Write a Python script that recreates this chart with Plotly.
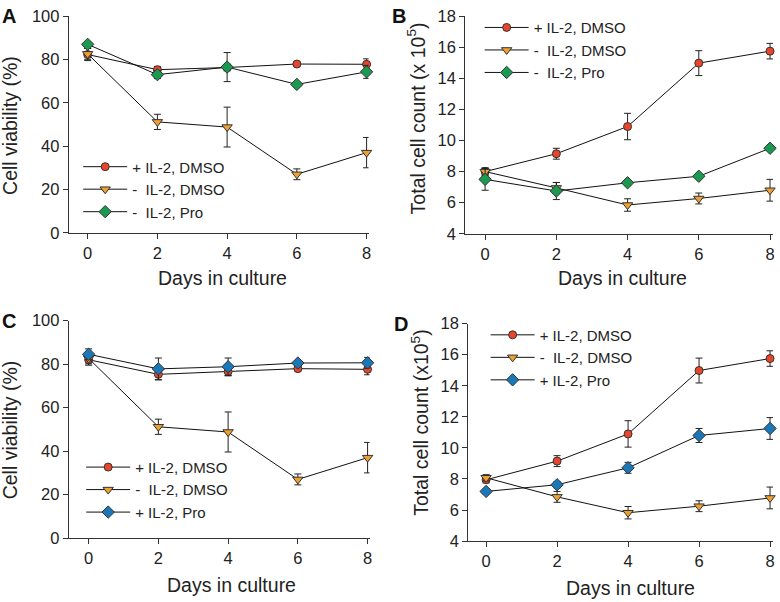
import plotly.graph_objects as go

days = [0, 2, 4, 6, 8]
x_ticks = [0, 2, 4, 6, 8]

# Panel A - cell viability (%)
a_il2_dmso = [82.3, 75.3, 76.3, 77.9, 77.8]
a_il2_dmso_err = [2.8, 1.5, 1.5, 1.0, 2.5]
a_noil2_dmso = [82.6, 51.2, 48.8, 27.0, 37.0]
a_noil2_dmso_err = [2.5, 3.5, 9.2, 2.5, 7.0]
a_noil2_pro = [87.0, 73.0, 76.5, 68.5, 74.3]
a_noil2_pro_err = [1.0, 1.8, 6.7, 1.0, 3.0]

# Panel B - total cell count (x 10^5)
b_il2_dmso = [8.0, 9.15, 10.9, 14.98, 15.75]
b_il2_dmso_err = [0.2, 0.35, 0.85, 0.8, 0.5]
b_noil2_dmso = [8.0, 6.95, 5.85, 6.27, 6.8]
b_noil2_dmso_err = [0.25, 0.35, 0.4, 0.35, 0.7]
b_noil2_pro = [7.5, 6.75, 7.28, 7.7, 9.5]
b_noil2_pro_err = [0.7, 0.55, 0.15, 0.15, 0.1]

# Panel C - cell viability (%)
c_il2_dmso = [82.0, 75.3, 76.6, 77.9, 77.6]
c_il2_dmso_err = [2.5, 2.5, 2.0, 1.0, 2.5]
c_noil2_dmso = [82.6, 51.2, 48.8, 27.0, 37.0]
c_noil2_dmso_err = [2.5, 3.5, 9.2, 2.5, 7.0]
c_il2_pro = [84.5, 77.8, 78.8, 80.5, 80.6]
c_il2_pro_err = [2.5, 5.0, 4.0, 1.0, 2.5]

# Panel D - total cell count (x10^5)
d_il2_dmso = [7.95, 9.15, 10.9, 14.98, 15.75]
d_il2_dmso_err = [0.2, 0.35, 0.85, 0.8, 0.5]
d_noil2_dmso = [8.08, 6.85, 5.83, 6.25, 6.78]
d_noil2_dmso_err = [0.2, 0.35, 0.4, 0.35, 0.7]
d_il2_pro = [7.2, 7.63, 8.72, 10.8, 11.25]
d_il2_pro_err = [0.15, 0.2, 0.35, 0.45, 0.7]

RED = "#E8452A"
ORANGE = "#F0A030"
GREEN = "#1A9A50"
BLUE = "#1A78B8"
FONT = "Liberation Sans, Arial, sans-serif"
INK = "#222222"

fig = go.Figure()


def add(x, y, err, name, color, symbol, size, xa, ya, legend):
    fig.add_trace(go.Scatter(
        x=x, y=y, name=name, mode="lines+markers",
        xaxis=xa, yaxis=ya, legend=legend,
        line=dict(color="#111111", width=1),
        marker=dict(color=color, symbol=symbol, size=size,
                    line=dict(color="#333333", width=1)),
        error_y=dict(type="data", array=err, visible=True,
                     color="#222222", thickness=1, width=3.5),
        cliponaxis=False,
    ))


add(days, a_il2_dmso, a_il2_dmso_err, "+ IL-2, DMSO", RED, "circle", 8, "x", "y", "legend")
add(days, a_noil2_dmso, a_noil2_dmso_err, "-  IL-2, DMSO", ORANGE, "triangle-down", 9, "x", "y", "legend")
add(days, a_noil2_pro, a_noil2_pro_err, "-  IL-2, Pro", GREEN, "diamond", 9.5, "x", "y", "legend")

add(days, b_il2_dmso, b_il2_dmso_err, "+ IL-2, DMSO", RED, "circle", 8, "x2", "y2", "legend2")
add(days, b_noil2_dmso, b_noil2_dmso_err, "-  IL-2, DMSO", ORANGE, "triangle-down", 9, "x2", "y2", "legend2")
add(days, b_noil2_pro, b_noil2_pro_err, "-  IL-2, Pro", GREEN, "diamond", 9.5, "x2", "y2", "legend2")

add(days, c_il2_dmso, c_il2_dmso_err, "+ IL-2, DMSO", RED, "circle", 8, "x3", "y3", "legend3")
add(days, c_noil2_dmso, c_noil2_dmso_err, "-  IL-2, DMSO", ORANGE, "triangle-down", 9, "x3", "y3", "legend3")
add(days, c_il2_pro, c_il2_pro_err, "+ IL-2, Pro", BLUE, "diamond", 9.5, "x3", "y3", "legend3")

add(days, d_il2_dmso, d_il2_dmso_err, "+ IL-2, DMSO", RED, "circle", 8, "x4", "y4", "legend4")
add(days, d_noil2_dmso, d_noil2_dmso_err, "-  IL-2, DMSO", ORANGE, "triangle-down", 9, "x4", "y4", "legend4")
add(days, d_il2_pro, d_il2_pro_err, "+ IL-2, Pro", BLUE, "diamond", 9.5, "x4", "y4", "legend4")

W, H = 780, 602
# vertical placement correction (observed photo offset / scale)
Y0, YS = 7.8, 0.972


def ypos(ypx):
    return (ypx - Y0) / YS


def xdom(a, b):
    return [a / W, b / W]


def ydom(top, bottom):
    return [1 - ypos(bottom) / H, 1 - ypos(top) / H]


axis_common = dict(showline=True, linecolor="#333333", linewidth=1,
                   ticks="outside", ticklen=5, tickcolor="#333333",
                   showgrid=False, zeroline=False,
                   tickfont=dict(family=FONT, size=16.5, color=INK))

xcommon = dict(axis_common, tickvals=x_ticks)

layout_axes = dict(
    xaxis=dict(xcommon, domain=xdom(69, 370), range=[-0.543, 8.057], anchor="y"),
    yaxis=dict(axis_common, domain=ydom(15, 232), range=[0, 100], dtick=20, anchor="x"),
    xaxis2=dict(xcommon, domain=xdom(467, 776), range=[-0.559, 8.084], anchor="y2"),
    yaxis2=dict(axis_common, domain=ydom(15, 233), range=[4, 18], dtick=2, anchor="x2"),
    xaxis3=dict(xcommon, domain=xdom(69, 371), range=[-0.571, 8.057], anchor="y3"),
    yaxis3=dict(axis_common, domain=ydom(320, 538), range=[0, 100], dtick=20, anchor="x3"),
    xaxis4=dict(xcommon, domain=xdom(470, 776), range=[-0.505, 8.084], anchor="y4"),
    yaxis4=dict(axis_common, domain=ydom(323, 541), range=[4, 18], dtick=2, anchor="x4"),
)

leg_common = dict(font=dict(family=FONT, size=15, color=INK),
                  bgcolor="rgba(0,0,0,0)", xanchor="left", yanchor="top",
                  tracegroupgap=0, itemclick=False, itemwidth=44)


def leg(xpx, ypx):
    return dict(leg_common, x=xpx / W, y=1 - ypos(ypx) / H)


annotations = []


def txt(text, xpx, ypx, size=19.5, angle=0, bold=False):
    annotations.append(dict(
        text=f"<b>{text}</b>" if bold else text,
        x=xpx / W, y=1 - ypos(ypx) / H, xref="paper", yref="paper",
        showarrow=False, textangle=angle, xanchor="center", yanchor="middle",
        font=dict(family=FONT, size=size, color="#111111" if bold else INK),
    ))


txt("A", 9, 15, size=20, bold=True)
txt("B", 401, 15, size=20, bold=True)
txt("C", 9, 320, size=20, bold=True)
txt("D", 403, 323, size=20, bold=True)

txt("Cell viability (%)", 10, 124, angle=-90)
txt("Total cell count (x 10<sup>5</sup>)", 418, 117, angle=-90)
txt("Cell viability (%)", 10, 429, angle=-90)
txt("Total cell count (x10<sup>5</sup>)", 422, 422, angle=-90)

txt("Days in culture", 223, 277)
txt("Days in culture", 625, 277)
txt("Days in culture", 232, 585)
txt("Days in culture", 633, 588)

fig.update_layout(
    width=W, height=H, autosize=False,
    margin=dict(l=0, r=0, t=0, b=0),
    paper_bgcolor="white", plot_bgcolor="white",
    showlegend=True,
    legend=leg(78.5, 149.5),
    legend2=leg(481.5, 10),
    legend3=leg(81.5, 450.5),
    legend4=leg(487.5, 318),
    annotations=annotations,
    **layout_axes,
)

page_fix = (
    "document.documentElement.style.margin='0';"
    "document.documentElement.style.overflow='hidden';"
    "document.body.style.margin='0';"
    "document.body.style.overflow='hidden';"
)

fig.write_html(
    "out.html",
    config={"displayModeBar": False},
    post_script=page_fix,
)
